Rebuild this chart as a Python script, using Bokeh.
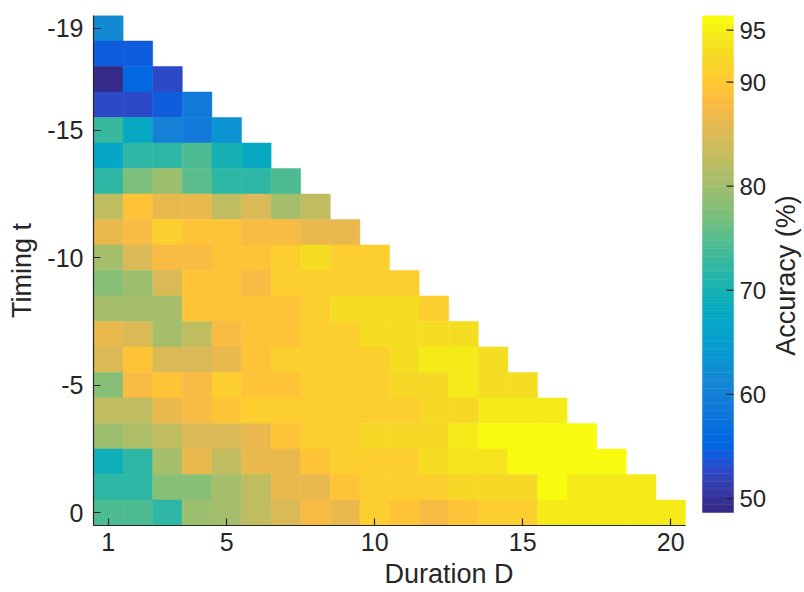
import numpy as np
from bokeh.plotting import figure
from bokeh.models import ColumnDataSource, LinearColorMapper, Range1d, FixedTicker, Label
from bokeh.core.properties import value
from bokeh.transform import transform
from bokeh.embed import file_html
from bokeh.resources import INLINE

# ---------------- data (accuracy %, one list per timing row, D = 1..n) ----------------
acc_t19 = [61.5]
acc_t18 = [54.0, 54.0]
acc_t17 = [48.65, 56.0, 52.5]
acc_t16 = [52.5, 52.5, 54.0, 59.0]
acc_t15 = [73.0, 67.5, 60.0, 58.5, 63.0]
acc_t14 = [67.0, 72.5, 72.5, 74.5, 70.0, 67.5]
acc_t13 = [72.5, 77.5, 79.5, 75.5, 72.5, 72.5, 74.5]
acc_t12 = [82.8, 89.6, 86.0, 86.0, 82.8, 84.5, 80.5, 82.8]
acc_t11 = [86.0, 88.0, 91.0, 89.6, 89.6, 88.0, 88.0, 86.0, 86.0]
acc_t10 = [80.5, 84.5, 88.0, 88.0, 89.6, 89.6, 91.0, 93.4, 91.0, 91.0]
acc_t9 = [77.8, 79.5, 84.5, 89.6, 89.6, 88.0, 91.0, 91.0, 91.0, 91.0, 91.0]
acc_t8 = [80.5, 80.5, 80.5, 89.6, 89.6, 89.6, 89.6, 91.0, 93.0, 93.0, 93.0, 90.5]
acc_t7 = [86.0, 84.5, 80.5, 82.8, 88.0, 89.6, 89.6, 91.0, 91.0, 93.0, 93.0, 93.0, 93.0]
acc_t6 = [84.5, 89.6, 84.5, 84.5, 86.0, 89.6, 91.0, 91.0, 91.0, 91.0, 93.0, 94.5, 94.5, 93.0]
acc_t5 = [77.8, 88.0, 89.6, 88.0, 91.0, 89.6, 89.6, 91.0, 91.0, 91.0, 92.5, 92.5, 94.5, 93.0, 93.0]
acc_t4 = [82.8, 82.8, 86.0, 88.0, 89.6, 91.0, 91.0, 91.0, 91.0, 90.5, 90.5, 92.5, 92.5, 94.5, 94.5, 94.5]
acc_t3 = [79.5, 81.0, 82.8, 84.5, 84.5, 86.0, 89.6, 91.0, 91.0, 92.5, 92.5, 92.5, 94.5, 96.4, 96.4, 96.4, 96.4]
acc_t2 = [69.5, 72.5, 80.5, 86.0, 82.8, 86.0, 86.0, 89.6, 91.0, 91.0, 91.0, 93.0, 94.0, 94.0, 96.4, 96.4, 96.4, 96.4]
acc_t1 = [72.0, 72.0, 77.8, 77.8, 80.5, 82.8, 86.0, 86.0, 89.6, 91.0, 91.0, 91.0, 92.5, 92.5, 92.5, 96.4, 94.5, 94.5, 94.5]
acc_t0 = [74.5, 74.5, 72.5, 79.5, 80.5, 82.8, 84.5, 88.0, 86.0, 91.0, 89.6, 88.0, 89.6, 91.0, 91.0, 94.5, 94.5, 94.5, 94.5, 94.5]

timing_rows = {
    -19: acc_t19, -18: acc_t18, -17: acc_t17, -16: acc_t16, -15: acc_t15,
    -14: acc_t14, -13: acc_t13, -12: acc_t12, -11: acc_t11, -10: acc_t10,
    -9: acc_t9, -8: acc_t8, -7: acc_t7, -6: acc_t6, -5: acc_t5,
    -4: acc_t4, -3: acc_t3, -2: acc_t2, -1: acc_t1, 0: acc_t0,
}

x_ticks = [1, 5, 10, 15, 20]
y_ticks = [-19, -15, -10, -5, 0]
cbar_ticks = [50, 60, 70, 80, 90, 95]

# ---------------- parula colormap (64 entries) ----------------
_parula = [
    (0.2081, 0.1663, 0.5292), (0.2116, 0.1898, 0.5777), (0.2123, 0.2138, 0.6270), (0.2081, 0.2386, 0.6771),
    (0.1959, 0.2645, 0.7279), (0.1707, 0.2919, 0.7792), (0.1253, 0.3242, 0.8303), (0.0591, 0.3598, 0.8683),
    (0.0117, 0.3875, 0.8820), (0.0060, 0.4086, 0.8828), (0.0165, 0.4266, 0.8786), (0.0329, 0.4430, 0.8720),
    (0.0498, 0.4586, 0.8641), (0.0629, 0.4737, 0.8554), (0.0723, 0.4887, 0.8467), (0.0779, 0.5040, 0.8384),
    (0.0793, 0.5200, 0.8312), (0.0749, 0.5375, 0.8263), (0.0641, 0.5570, 0.8240), (0.0488, 0.5772, 0.8228),
    (0.0343, 0.5966, 0.8199), (0.0265, 0.6137, 0.8135), (0.0239, 0.6287, 0.8038), (0.0231, 0.6418, 0.7913),
    (0.0228, 0.6535, 0.7768), (0.0267, 0.6642, 0.7607), (0.0384, 0.6743, 0.7436), (0.0590, 0.6838, 0.7254),
    (0.0843, 0.6928, 0.7062), (0.1133, 0.7015, 0.6859), (0.1453, 0.7098, 0.6646), (0.1801, 0.7177, 0.6424),
    (0.2178, 0.7250, 0.6193), (0.2586, 0.7317, 0.5954), (0.3022, 0.7376, 0.5712), (0.3482, 0.7424, 0.5473),
    (0.3953, 0.7459, 0.5244), (0.4420, 0.7481, 0.5033), (0.4871, 0.7491, 0.4840), (0.5300, 0.7491, 0.4661),
    (0.5709, 0.7485, 0.4494), (0.6099, 0.7473, 0.4337), (0.6473, 0.7456, 0.4188), (0.6834, 0.7435, 0.4044),
    (0.7184, 0.7411, 0.3905), (0.7525, 0.7384, 0.3768), (0.7858, 0.7356, 0.3633), (0.8185, 0.7327, 0.3498),
    (0.8507, 0.7299, 0.3360), (0.8824, 0.7274, 0.3217), (0.9139, 0.7258, 0.3063), (0.9450, 0.7261, 0.2886),
    (0.9739, 0.7314, 0.2666), (0.9938, 0.7455, 0.2403), (0.9990, 0.7653, 0.2164), (0.9955, 0.7861, 0.1967),
    (0.9880, 0.8066, 0.1794), (0.9789, 0.8271, 0.1633), (0.9697, 0.8481, 0.1475), (0.9626, 0.8705, 0.1309),
    (0.9589, 0.8949, 0.1132), (0.9598, 0.9218, 0.0948), (0.9661, 0.9514, 0.0755), (0.9763, 0.9831, 0.0538),
]
parula = ["#%02x%02x%02x" % tuple(int(round(c * 255)) for c in rgb) for rgb in _parula]

# ---------------- build table ----------------
D_col, t_col, acc_col = [], [], []
for t, vals in timing_rows.items():
    for i, v in enumerate(vals):
        D_col.append(i + 1)
        t_col.append(t)
        acc_col.append(v)
source = ColumnDataSource(dict(D=D_col, t=t_col, acc=acc_col))

low, high = min(acc_col), max(acc_col)
mapper = LinearColorMapper(palette=parula, low=low, high=high)

INK = "#262626"
SANS = "Liberation Sans"

# ---------------- layout geometry (pixels) ----------------
W, H = 804, 592
LEFT, TOP, BOTTOM = 93, 15, 67
FW = W - LEFT            # frame spans to the right edge (room for colour bar)
FH = H - TOP - BOTTOM
HEAT_W = 592             # width of heat-map area inside the frame
CB_X0, CB_X1 = 609, 640  # colour bar, px from frame left
CB_H = 497               # colour bar height, px from frame top

n_cols = max(len(v) for v in timing_rows.values())
x_end = 0.5 + n_cols * FW / HEAT_W

p = figure(width=W, height=H, x_range=Range1d(0.5, x_end), y_range=Range1d(0.5, -19.5),
           toolbar_location=None, output_backend="svg",
           min_border_left=LEFT, min_border_right=0, min_border_top=TOP, min_border_bottom=BOTTOM)
p.extra_x_ranges = {"px": Range1d(0, FW)}
p.extra_y_ranges = {"acc": Range1d(high - (high - low) * FH / CB_H, high)}

p.rect(x="D", y="t", width=1, height=1, source=source,
       fill_color=transform("acc", mapper), line_color=transform("acc", mapper), line_width=0.5)

p.grid.visible = False
p.outline_line_color = None
p.background_fill_color = "white"
p.border_fill_color = "white"

for ax in (p.xaxis[0], p.yaxis[0]):
    ax.major_tick_in = 7
    ax.major_tick_out = 0
    ax.minor_tick_in = 0
    ax.minor_tick_out = 0
    ax.axis_line_color = INK
    ax.axis_line_width = 1.2
    ax.major_tick_line_color = INK
    ax.major_tick_line_width = 1.2
    ax.major_label_text_font = SANS
    ax.major_label_text_font_size = "25px"
    ax.major_label_text_color = INK
    ax.axis_label_text_font = SANS
    ax.axis_label_text_font_size = "27px"
    ax.axis_label_text_font_style = "normal"
    ax.axis_label_text_color = INK

p.xaxis.ticker = FixedTicker(ticks=x_ticks)
p.xaxis.bounds = (0.5, 0.5 + n_cols)
p.xaxis.major_label_standoff = 7
p.xaxis.axis_label = "Duration D"
p.xaxis.axis_label_standoff = 5

p.yaxis.ticker = FixedTicker(ticks=y_ticks)
p.yaxis.major_label_overrides = {t: str(t) for t in y_ticks}
p.yaxis.major_label_standoff = 10
p.yaxis.axis_label = "Timing t"
p.yaxis.axis_label_standoff = 7

# ---------------- colour bar ----------------
edges = np.linspace(low, high, len(parula) + 1)
p.quad(left=CB_X0, right=CB_X1, bottom=edges[:-1], top=edges[1:],
       fill_color=parula, line_color=parula, line_width=0.5,
       x_range_name="px", y_range_name="acc")
p.segment(x0=CB_X1 - 7, x1=CB_X1, y0=cbar_ticks, y1=cbar_ticks,
          line_color=INK, line_width=1.2, x_range_name="px", y_range_name="acc")
p.text(x=CB_X1 + 6, y=cbar_ticks, text=[str(v) for v in cbar_ticks],
       text_align="left", text_baseline="middle", text_font=value(SANS),
       text_font_size=value("24px"), text_color=INK, x_range_name="px", y_range_name="acc")
p.add_layout(Label(x=692, y=250, x_units="screen", y_units="screen", text="Accuracy (%)",
                   angle=90, angle_units="deg", text_align="center", text_baseline="middle",
                   text_font=SANS, text_font_size="27px", text_color=INK))

open("out.html", "w").write(file_html(p, INLINE))
